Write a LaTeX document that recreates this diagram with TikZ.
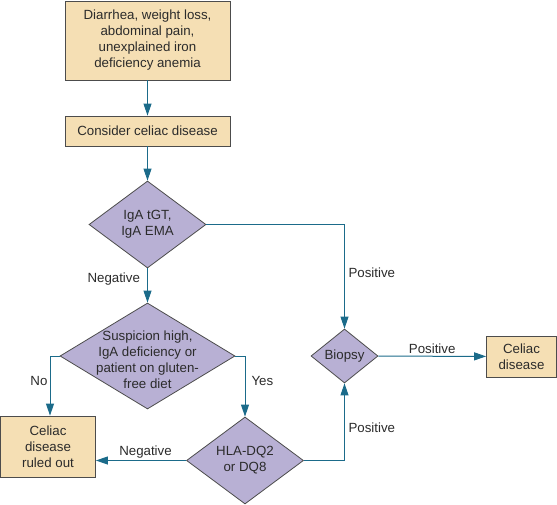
\documentclass[tikz,border=0pt]{standalone}
\usepackage{fontspec}
\setmainfont{Liberation Sans}
\usetikzlibrary{shapes.geometric,arrows.meta}
\definecolor{boxfill}{HTML}{F5DFB4}
\definecolor{diafill}{HTML}{B8B0D4}
\definecolor{linkcol}{HTML}{1B6B8A}
\definecolor{txtcol}{HTML}{2B2B2B}
\begin{document}
\begin{tikzpicture}[x=1pt,y=-1pt,font=\fontsize{13.3}{16}\selectfont,text=txtcol,
box/.style={rectangle,draw=black!70,fill=boxfill,line width=0.8pt,align=center,inner sep=0pt},
dia/.style={diamond,draw=black!70,fill=diafill,line width=0.8pt,align=center,inner sep=0pt},
link/.style={draw=linkcol,line width=1pt,-{Triangle[length=12pt,width=8pt]}},
lbl/.style={inner sep=1pt}]
\useasboundingbox (0,0) rectangle (557,505);
\node[box,minimum width=165pt,minimum height=79pt] (sympt) at (147.5,40.5)
   {Diarrhea, weight loss,\\abdominal pain,\\unexplained iron\\deficiency anemia};
\node[box,minimum width=165pt,minimum height=30pt] (consider) at (147.5,131) {Consider celiac disease};
\node[dia,minimum width=117pt,minimum height=87pt] (tgt) at (147.5,224.5) {IgA tGT,\\IgA EMA};
\node[dia,minimum width=175pt,minimum height=106pt,
   label={[lbl,align=center,yshift=-4pt]center:Suspicion high,\\IgA deficiency or\\patient on gluten-\\free diet}]
   (susp) at (147.5,356) {};
\node[dia,minimum width=117pt,minimum height=87pt] (hla) at (245,460.5) {HLA-DQ2\\or DQ8};
\node[dia,minimum width=67pt,minimum height=54pt] (biopsy) at (344.5,356) {Biopsy};
\node[box,minimum width=95pt,minimum height=61pt] (ruled) at (48,446.5) {Celiac\\disease\\ruled out};
\node[box,minimum width=70pt,minimum height=41pt] (celiac) at (521.5,356.5) {Celiac\\disease};
\draw[link] (sympt) -- (consider);
\draw[link] (consider) -- (tgt);
\draw[link] (tgt) -- node[lbl,pos=0.32,left=6pt]{Negative} (susp);
\draw[link] (susp.west) -| node[lbl,pos=0.71,left=1pt]{No} ([xshift=2pt]ruled.north);
\draw[link] (susp.east) -| node[lbl,pos=0.71,right=5pt]{Yes} (hla.north);
\draw[link] (hla.west) -- node[lbl,pos=0.45,above=1pt]{Negative} (hla.west -| ruled.east);
\draw[link] (hla.east) -| node[lbl,pos=0.71,right=2.5pt]{Positive} (biopsy.south);
\draw[link] (tgt.east) -| node[lbl,pos=0.73,right=2.5pt]{Positive} (biopsy.north);
\draw[link] (biopsy) -- node[lbl,above=1pt]{Positive} (celiac);
\end{tikzpicture}
\end{document}
